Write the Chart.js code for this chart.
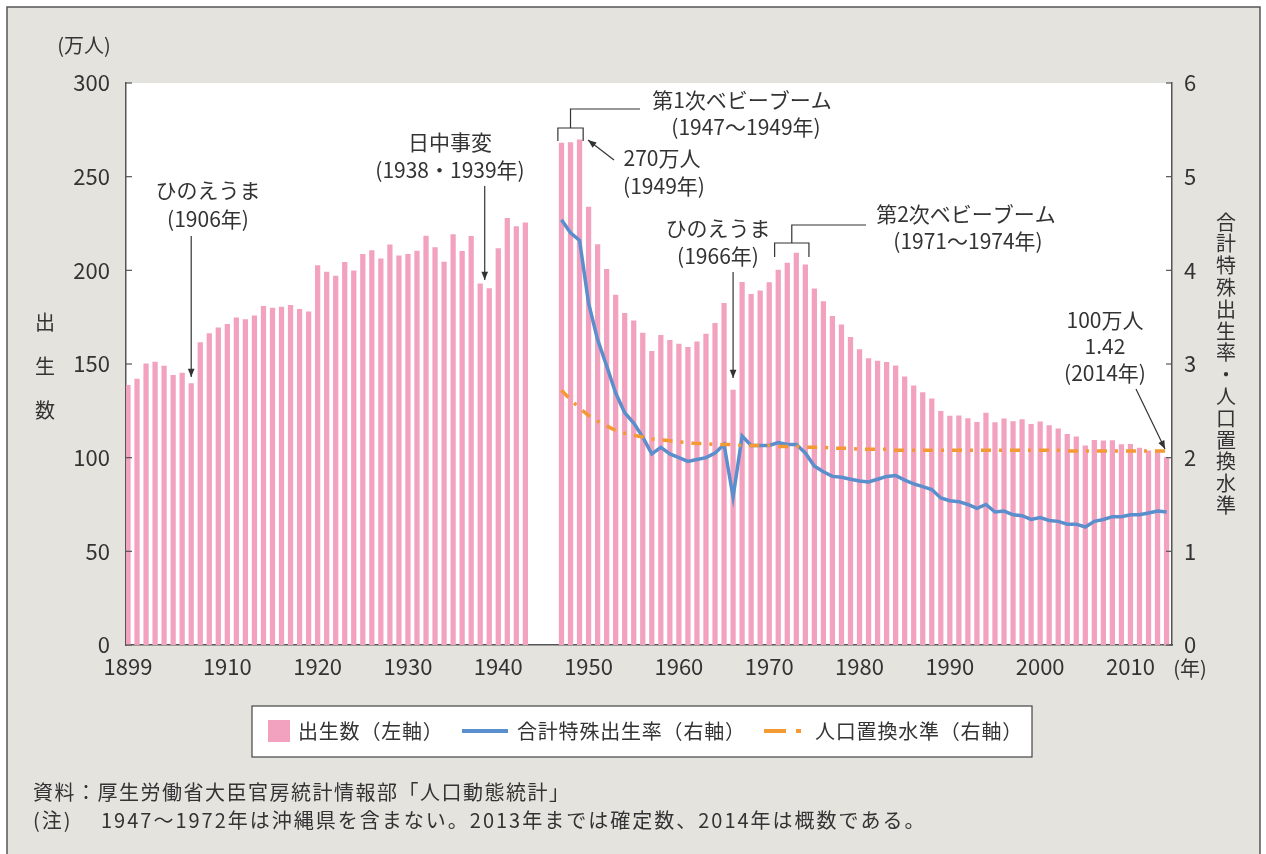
<!DOCTYPE html>
<html>
<head>
<meta charset="utf-8">
<script src="https://cdn.jsdelivr.net/npm/chart.js@4"></script>
<style>
  html, body { margin: 0; padding: 0; background: #fff; }
  #wrap { width: 1266px; height: 854px; position: relative; }
</style>
</head>
<body>
<div id="wrap"><canvas id="c" width="1266" height="854"></canvas></div>
<script>
// Births (万人), 1899-1943 and 1947-2014 (1944-46 no data)
const prewarStart = 1899;
const prewarBirths = [
  138.6, 142.0, 150.1, 151.0, 148.9, 144.0, 145.2, 139.5, 161.5, 166.3,
  169.3, 171.2, 174.7, 173.7, 175.7, 180.8, 179.9, 180.4, 181.3, 179.2,
  177.8, 202.6, 199.1, 196.9, 204.3, 199.8, 208.6, 210.5, 206.1, 213.6,
  207.7, 208.5, 210.3, 218.3, 212.1, 204.4, 219.1, 210.2, 218.1, 192.8,
  190.2, 211.6, 227.7, 223.4, 225.4
];
const postwarStart = 1947;
const postwarBirths = [
  267.9, 268.2, 269.7, 233.8, 213.8, 200.5, 186.8, 177.0, 173.1, 166.5,
  156.7, 165.3, 162.6, 160.6, 158.9, 161.9, 166.0, 171.7, 182.4, 136.1,
  193.6, 187.2, 189.0, 193.4, 200.1, 203.9, 209.2, 203.0, 190.1, 183.3,
  175.5, 170.9, 164.3, 157.7, 152.9, 151.5, 150.9, 149.0, 143.2, 138.3,
  134.7, 131.4, 124.7, 122.2, 122.3, 120.9, 118.8, 123.8, 118.7, 120.7,
  119.2, 120.3, 117.8, 119.1, 117.1, 115.4, 112.4, 111.1, 106.3, 109.3,
  109.0, 109.1, 107.0, 107.1, 105.1, 103.7, 103.0, 100.1
];
// Total fertility rate, 1947-2014
const tfr = [
  4.54, 4.40, 4.32, 3.65, 3.26, 2.98, 2.69, 2.48, 2.37, 2.22,
  2.04, 2.11, 2.04, 2.00, 1.96, 1.98, 2.00, 2.05, 2.14, 1.58,
  2.23, 2.13, 2.13, 2.13, 2.16, 2.14, 2.14, 2.05, 1.91, 1.85,
  1.80, 1.79, 1.77, 1.75, 1.74, 1.77, 1.80, 1.81, 1.76, 1.72,
  1.69, 1.66, 1.57, 1.54, 1.53, 1.50, 1.46, 1.50, 1.42, 1.43,
  1.39, 1.38, 1.34, 1.36, 1.33, 1.32, 1.29, 1.29, 1.26, 1.32,
  1.34, 1.37, 1.37, 1.39, 1.39, 1.41, 1.43, 1.42
];
// Replacement level, 1947-2014
const replacement = [
  2.72, 2.62, 2.53, 2.45, 2.39, 2.34, 2.29, 2.26, 2.24, 2.22,
  2.20, 2.19, 2.18, 2.17, 2.16, 2.15, 2.15, 2.14, 2.14, 2.14,
  2.13, 2.13, 2.13, 2.13, 2.12, 2.12, 2.12, 2.11, 2.11, 2.11,
  2.10, 2.10, 2.10, 2.09, 2.09, 2.09, 2.09, 2.08, 2.08, 2.08,
  2.08, 2.08, 2.08, 2.08, 2.08, 2.08, 2.08, 2.08, 2.08, 2.08,
  2.08, 2.08, 2.08, 2.08, 2.08, 2.08, 2.07, 2.07, 2.07, 2.07,
  2.07, 2.07, 2.07, 2.07, 2.07, 2.07, 2.07, 2.07
];
const xTickYears = [1899, 1910, 1920, 1930, 1940, 1950, 1960, 1970, 1980, 1990, 2000, 2010];
const leftTicks = [0, 50, 100, 150, 200, 250, 300];
const rightTicks = [0, 1, 2, 3, 4, 5, 6];

const FONT = '"Noto Sans CJK JP", "Noto Sans", sans-serif';
const TXT = '#333';

const birthPts = prewarBirths.map((v, i) => ({ x: prewarStart + i, y: v }))
  .concat(postwarBirths.map((v, i) => ({ x: postwarStart + i, y: v })));
const tfrPts = tfr.map((v, i) => ({ x: postwarStart + i, y: v }));
const replPts = replacement.map((v, i) => ({ x: postwarStart + i, y: v }));

function arrow(ctx, x1, y1, x2, y2) {
  ctx.beginPath();
  ctx.moveTo(x1, y1); ctx.lineTo(x2, y2);
  ctx.stroke();
  const a = Math.atan2(y2 - y1, x2 - x1);
  ctx.beginPath();
  ctx.moveTo(x2, y2);
  ctx.lineTo(x2 - 9 * Math.cos(a - 0.38), y2 - 9 * Math.sin(a - 0.38));
  ctx.lineTo(x2 - 9 * Math.cos(a + 0.38), y2 - 9 * Math.sin(a + 0.38));
  ctx.closePath();
  ctx.fill();
}

const decor = {
  id: 'decor',
  beforeDraw(chart) {
    const ctx = chart.ctx, a = chart.chartArea;
    ctx.save();
    ctx.fillStyle = '#fff';
    ctx.fillRect(0, 0, chart.width, chart.height);
    ctx.fillStyle = '#e4e3de';
    ctx.fillRect(7, 7, 1253, 860);
    ctx.strokeStyle = '#555';
    ctx.lineWidth = 1.5;
    ctx.strokeRect(7, 7, 1253, 860);
    ctx.fillStyle = '#fff';
    ctx.fillRect(a.left, a.top, a.right - a.left, a.bottom - a.top);
    ctx.restore();
  },
  afterDraw(chart) {
    const ctx = chart.ctx, a = chart.chartArea;
    const xs = chart.scales.x, ys = chart.scales.y, y1 = chart.scales.y1;
    ctx.save();
    // inward ticks
    ctx.strokeStyle = '#555';
    ctx.lineWidth = 1.2;
    leftTicks.forEach(v => {
      const p = ys.getPixelForValue(v);
      ctx.beginPath(); ctx.moveTo(a.left, p); ctx.lineTo(a.left + 6, p); ctx.stroke();
    });
    rightTicks.forEach(v => {
      const p = y1.getPixelForValue(v);
      ctx.beginPath(); ctx.moveTo(a.right, p); ctx.lineTo(a.right - 6, p); ctx.stroke();
    });

    ctx.fillStyle = TXT;
    ctx.textBaseline = 'middle';
    ctx.textAlign = 'center';
    ctx.font = '20px ' + FONT;
    ctx.fillText('(万人)', 84, 45);
    ctx.fillText('(年)', 1190, 668);
    ['出', '生', '数'].forEach((ch, i) => ctx.fillText(ch, 45, 322 + i * 44));
    '合計特殊出生率・人口置換水準'.split('').forEach((ch, i) => ctx.fillText(ch, 1226, 222 + i * 21.8));

    // annotations
    ctx.font = '21px ' + FONT;
    ctx.strokeStyle = '#333';
    ctx.lineWidth = 1.2;
    ctx.fillText('ひのえうま', 208, 190);
    ctx.fillText('(1906年)', 208, 219);
    const x1906 = xs.getPixelForValue(1906);
    arrow(ctx, x1906, 236, x1906, 377);

    ctx.fillText('日中事変', 450, 142);
    ctx.fillText('(1938・1939年)', 450, 170);
    const x1938 = xs.getPixelForValue(1938.5);
    arrow(ctx, x1938, 186, x1938, 280);

    // 1st baby boom bracket
    const b1l = xs.getPixelForValue(1946.6), b1r = xs.getPixelForValue(1949.4);
    const b1m = (b1l + b1r) / 2;
    ctx.beginPath();
    ctx.moveTo(b1l, 141); ctx.lineTo(b1l, 128); ctx.lineTo(b1r, 128); ctx.lineTo(b1r, 141);
    ctx.moveTo(b1m, 128); ctx.lineTo(b1m, 109); ctx.lineTo(640, 109);
    ctx.stroke();
    ctx.fillText('第1次ベビーブーム', 742, 100);
    ctx.fillText('(1947～1949年)', 746, 127);
    ctx.fillText('270万人', 662, 158);
    ctx.fillText('(1949年)', 664, 186);
    arrow(ctx, 614, 160, 588, 140);

    ctx.fillText('ひのえうま', 718, 228);
    ctx.fillText('(1966年)', 718, 256);
    const x1966 = xs.getPixelForValue(1966);
    arrow(ctx, x1966, 272, x1966, 378);

    // 2nd baby boom bracket
    const b2l = xs.getPixelForValue(1970.6), b2r = xs.getPixelForValue(1974.4);
    const b2m = (b2l + b2r) / 2;
    ctx.beginPath();
    ctx.moveTo(b2l, 257); ctx.lineTo(b2l, 243); ctx.lineTo(b2r, 243); ctx.lineTo(b2r, 257);
    ctx.moveTo(b2m, 243); ctx.lineTo(b2m, 225); ctx.lineTo(866, 225);
    ctx.stroke();
    ctx.fillText('第2次ベビーブーム', 966, 214);
    ctx.fillText('(1971～1974年)', 968, 241);

    ctx.fillText('100万人', 1105, 320);
    ctx.fillText('1.42', 1105, 346);
    ctx.fillText('(2014年)', 1105, 373);
    arrow(ctx, 1136, 389, 1165, 449);

    // legend
    ctx.fillStyle = '#fff';
    ctx.fillRect(252, 706, 780, 51);
    ctx.strokeStyle = '#444';
    ctx.lineWidth = 1.2;
    ctx.strokeRect(252, 706, 780, 51);
    ctx.fillStyle = '#f2a2bf';
    ctx.fillRect(268, 720, 22, 22);
    ctx.strokeStyle = '#5b8ecc';
    ctx.lineWidth = 4;
    ctx.beginPath(); ctx.moveTo(462, 731); ctx.lineTo(508, 731); ctx.stroke();
    ctx.strokeStyle = '#f39a33';
    ctx.beginPath(); ctx.moveTo(764, 731); ctx.lineTo(786, 731); ctx.stroke();
    ctx.beginPath(); ctx.moveTo(796, 731); ctx.lineTo(801, 731); ctx.stroke();
    ctx.fillStyle = TXT;
    ctx.textAlign = 'left';
    ctx.font = '20px ' + FONT;
    ctx.letterSpacing = '0.8px';
    ctx.fillText('出生数（左軸）', 298, 731);
    ctx.fillText('合計特殊出生率（右軸）', 517, 731);
    ctx.fillText('人口置換水準（右軸）', 815, 731);

    // notes
    ctx.letterSpacing = '1.5px';
    ctx.fillText('資料：厚生労働省大臣官房統計情報部「人口動態統計」', 33, 792);
    ctx.letterSpacing = '2px';
    ctx.fillText('(注)　 1947～1972年は沖縄県を含まない。2013年までは確定数、2014年は概数である。', 33, 820);
    ctx.restore();
  }
};

new Chart(document.getElementById('c'), {
  data: {
    datasets: [
      {
        type: 'line', label: '人口置換水準（右軸）', data: replPts, yAxisID: 'y1',
        borderColor: '#f39a33', borderWidth: 3.5, borderDash: [10, 8, 3, 8],
        pointRadius: 0, tension: 0, order: 0
      },
      {
        type: 'line', label: '合計特殊出生率（右軸）', data: tfrPts, yAxisID: 'y1',
        borderColor: '#5b8ecc', borderWidth: 3.5, pointRadius: 0, tension: 0, order: 1
      },
      {
        type: 'bar', label: '出生数（左軸）', data: birthPts, yAxisID: 'y',
        backgroundColor: '#f2a2bf', barThickness: 4.6, order: 2
      }
    ]
  },
  options: {
    responsive: false,
    animation: false,
    layout: { padding: { top: 83, left: 0, right: 0, bottom: 0 } },
    plugins: { legend: { display: false }, tooltip: { enabled: false } },
    scales: {
      x: {
        type: 'linear', min: 1898.78, max: 2014.6, offset: false,
        afterFit: s => { s.height = 209; },
        afterBuildTicks: s => { s.ticks = xTickYears.map(v => ({ value: v })); },
        grid: { display: false, drawTicks: false, offset: false },
        border: { color: '#555', width: 1.5 },
        ticks: { color: TXT, font: { size: 22, family: FONT }, padding: 8, maxRotation: 0, autoSkip: false, callback: v => String(v) }
      },
      y: {
        position: 'left', min: 0, max: 300,
        afterFit: s => { s.width = 126; },
        afterBuildTicks: s => { s.ticks = leftTicks.map(v => ({ value: v })); },
        grid: { display: false, drawTicks: false },
        border: { color: '#555', width: 1.5 },
        ticks: { color: TXT, font: { size: 22, family: FONT }, padding: 16 }
      },
      y1: {
        position: 'right', min: 0, max: 6,
        afterFit: s => { s.width = 94; },
        afterBuildTicks: s => { s.ticks = rightTicks.map(v => ({ value: v })); },
        grid: { display: false, drawTicks: false },
        border: { color: '#555', width: 1.5 },
        ticks: { color: TXT, font: { size: 22, family: FONT }, padding: 12 }
      }
    }
  },
  plugins: [decor]
});
</script>
</body>
</html>
